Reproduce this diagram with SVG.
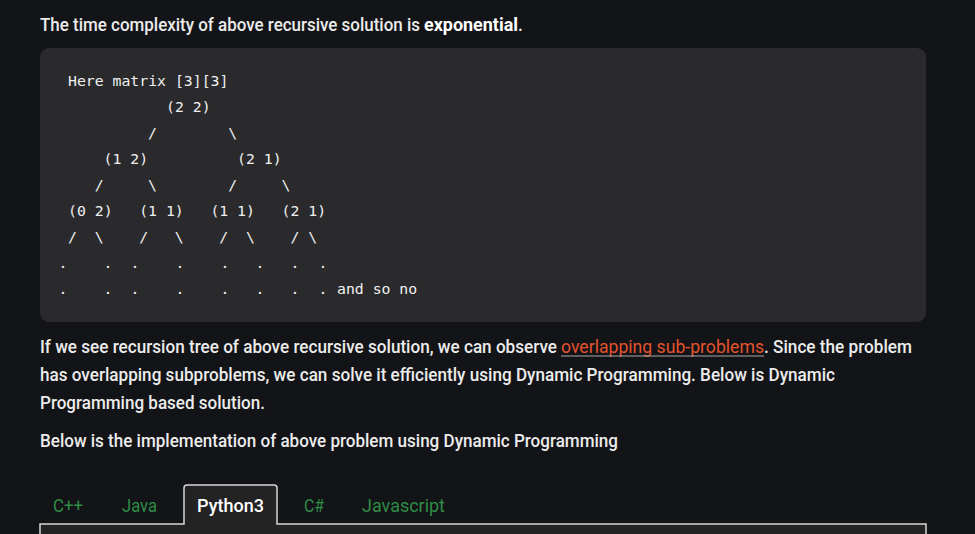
<svg xmlns="http://www.w3.org/2000/svg" width="975" height="534" viewBox="0 0 975 534">
<style>
.b{font-family:Roboto,"Liberation Sans",sans-serif;font-size:17.5px;font-weight:500;fill:#ececec}
.bb{font-weight:700;fill:#ffffff}
.m{font-family:"DejaVu Sans Mono","Liberation Mono",monospace;font-size:14.8px;fill:#f0f0f0}
.d{font-family:"DejaVu Sans Mono","Liberation Mono",monospace;font-size:14.8px;fill:#f0f0f0;text-anchor:middle}
.t{font-family:Roboto,"Liberation Sans",sans-serif;font-size:17.5px;fill:#2f8d46}
</style>
<rect width="975" height="534" fill="#131417"/>
<text class="b" x="40" y="31" textLength="380" lengthAdjust="spacingAndGlyphs">The time complexity of above recursive solution is</text>
<text class="b bb" x="424" y="31" textLength="94" lengthAdjust="spacingAndGlyphs">exponential</text>
<text class="b" x="518" y="31">.</text>
<g id="codeblock">
<rect x="40" y="48" width="886" height="274" rx="9" fill="#2a2a2d"/>
<text class="m" x="68" y="86">Here matrix [3][3]</text>
<text class="m" x="166" y="112">(2 2)</text>
<text class="m" x="148" y="138">/</text><text class="m" x="228.3" y="138">\</text>
<text class="m" x="103.6" y="164">(1 2)</text><text class="m" x="237.1" y="164">(2 1)</text>
<text class="m" x="94.7" y="190">/</text><text class="m" x="148.1" y="190">\</text><text class="m" x="228.3" y="190">/</text><text class="m" x="281.6" y="190">\</text>
<text class="m" x="68" y="216">(0 2)</text><text class="m" x="139.2" y="216">(1 1)</text><text class="m" x="210.4" y="216">(1 1)</text><text class="m" x="281.6" y="216">(2 1)</text>
<text class="m" x="68" y="242">/</text><text class="m" x="94.7" y="242">\</text><text class="m" x="139.2" y="242">/</text><text class="m" x="174.8" y="242">\</text><text class="m" x="219.3" y="242">/</text><text class="m" x="246" y="242">\</text><text class="m" x="290.5" y="242">/</text><text class="m" x="308.3" y="242">\</text>
<text class="d" x="63" y="268">.</text><text class="d" x="108" y="268">.</text><text class="d" x="135" y="268">.</text><text class="d" x="180" y="268">.</text><text class="d" x="225" y="268">.</text><text class="d" x="260" y="268">.</text><text class="d" x="295" y="268">.</text><text class="d" x="323" y="268">.</text>
<text class="d" x="63" y="294">.</text><text class="d" x="108" y="294">.</text><text class="d" x="135" y="294">.</text><text class="d" x="180" y="294">.</text><text class="d" x="225" y="294">.</text><text class="d" x="260" y="294">.</text><text class="d" x="295" y="294">.</text><text class="d" x="323" y="294">.</text>
<text class="m" x="337" y="294">and so no</text>
</g>
<text class="b" x="40" y="353" textLength="517" lengthAdjust="spacingAndGlyphs">If we see recursion tree of above recursive solution, we can observe</text>
<text class="b" x="561" y="353" textLength="203" lengthAdjust="spacingAndGlyphs" style="fill:#e2532e;font-weight:400">overlapping sub-problems</text>
<line x1="561" y1="356" x2="764" y2="356" stroke="#a8a8a8" stroke-width="1"/>
<text class="b" x="764" y="353" textLength="148" lengthAdjust="spacingAndGlyphs">. Since the problem</text>
<text class="b" x="40" y="381" textLength="795" lengthAdjust="spacingAndGlyphs">has overlapping subproblems, we can solve it efficiently using Dynamic Programming. Below is Dynamic</text>
<text class="b" x="40" y="409" textLength="225" lengthAdjust="spacingAndGlyphs">Programming based solution.</text>
<text class="b" x="40" y="447" textLength="578" lengthAdjust="spacingAndGlyphs">Below is the implementation of above problem using Dynamic Programming</text>
<g id="tabs">
<rect x="40" y="524" width="886" height="12" fill="#232323"/>
<path d="M184,524 V488 Q184,485 187,485 H274 Q277,485 277,488 V524 Z" fill="#232323"/>
<path d="M40,536 V524 H184 V488 Q184,485 187,485 H274 Q277,485 277,488 V524 H926 V536" fill="none" stroke="#d6d6d6" stroke-width="1.5"/>
<text class="t" x="53" y="512" textLength="30" lengthAdjust="spacingAndGlyphs">C++</text>
<text class="t" x="122" y="512" textLength="35" lengthAdjust="spacingAndGlyphs">Java</text>
<text class="b" x="197" y="512" textLength="67" lengthAdjust="spacingAndGlyphs" style="font-weight:500;fill:#ffffff">Python3</text>
<text class="t" x="304" y="512" textLength="20" lengthAdjust="spacingAndGlyphs">C#</text>
<text class="t" x="362" y="512" textLength="83" lengthAdjust="spacingAndGlyphs">Javascript</text>
</g>
</svg>
